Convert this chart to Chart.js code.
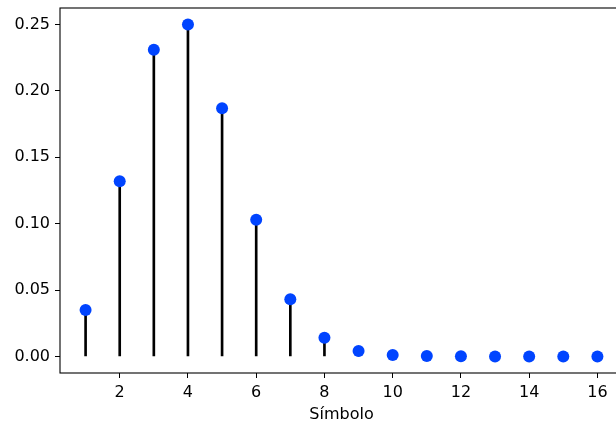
<!DOCTYPE html>
<html>
<head>
<meta charset="utf-8">
<script src="https://cdn.jsdelivr.net/npm/chart.js@4/dist/chart.umd.min.js"></script>
<style>
  html, body { margin: 0; padding: 0; background: #fff; overflow: hidden; }
</style>
</head>
<body>
<canvas id="grafik" width="629" height="425"></canvas>
<script>
// datos
const simbolos = [1, 2, 3, 4, 5, 6, 7, 8, 9, 10, 11, 12, 13, 14, 15, 16];
const probabilidades = [0.035, 0.132, 0.231, 0.250, 0.187, 0.103, 0.043, 0.014, 0.004, 0.001, 0.0003, 0.0001, 0.0, 0.0, 0.0, 0.0];
const xTicks = [2, 4, 6, 8, 10, 12, 14, 16];
const yTicks = [0.00, 0.05, 0.10, 0.15, 0.20, 0.25];

const puntos = simbolos.map((s, i) => ({ x: s, y: probabilidades[i] }));

// marco de los ejes (estilo matplotlib)
const marco = {
    id: 'marco',
    afterDraw(chart) {
        const { ctx, chartArea: a } = chart;
        ctx.save();
        ctx.strokeStyle = '#000';
        ctx.lineWidth = 1.1;
        ctx.strokeRect(a.left, a.top, a.right - a.left, a.bottom - a.top);
        ctx.restore();
    }
};

const fuente = { family: 'DejaVu Sans', size: 16 };

new Chart(document.getElementById('grafik').getContext('2d'), {
    data: {
        datasets: [
            {
                type: 'scatter',
                data: puntos,
                backgroundColor: '#0044ff',
                borderWidth: 0,
                pointRadius: 6,
                order: 0
            },
            {
                type: 'bar',
                data: puntos,
                backgroundColor: '#000',
                barThickness: 2,
                order: 1
            }
        ]
    },
    options: {
        responsive: false,
        animation: false,
        layout: { padding: { top: 8, left: 0, right: 0, bottom: 0 } },
        plugins: { legend: { display: false }, tooltip: { enabled: false } },
        scales: {
            x: {
                type: 'linear',
                min: 0.25,
                max: 16.75,
                offset: false,
                afterBuildTicks: (s) => { s.ticks = xTicks.map(v => ({ value: v })); },
                afterFit: (s) => { s.height = 52; s.paddingLeft = 0; s.paddingRight = 0; },
                grid: { offset: false, drawOnChartArea: false, drawTicks: true, tickLength: 5, color: '#000', tickWidth: 1 },
                border: { display: false },
                ticks: { color: '#000', font: fuente, padding: 5, maxRotation: 0 },
                title: { display: true, text: 'Símbolo', color: '#000', font: fuente, padding: { top: 0, bottom: 1 } }
            },
            y: {
                min: -0.0125,
                max: 0.2625,
                afterBuildTicks: (s) => { s.ticks = yTicks.map(v => ({ value: v })); },
                afterFit: (s) => { s.width = 60; s.paddingTop = 0; s.paddingBottom = 0; },
                grid: { drawOnChartArea: false, drawTicks: true, tickLength: 5, color: '#000', tickWidth: 1 },
                border: { display: false },
                ticks: { color: '#000', font: fuente, padding: 5, callback: (v) => v.toFixed(2) }
            }
        }
    },
    plugins: [marco]
});
</script>
</body>
</html>
